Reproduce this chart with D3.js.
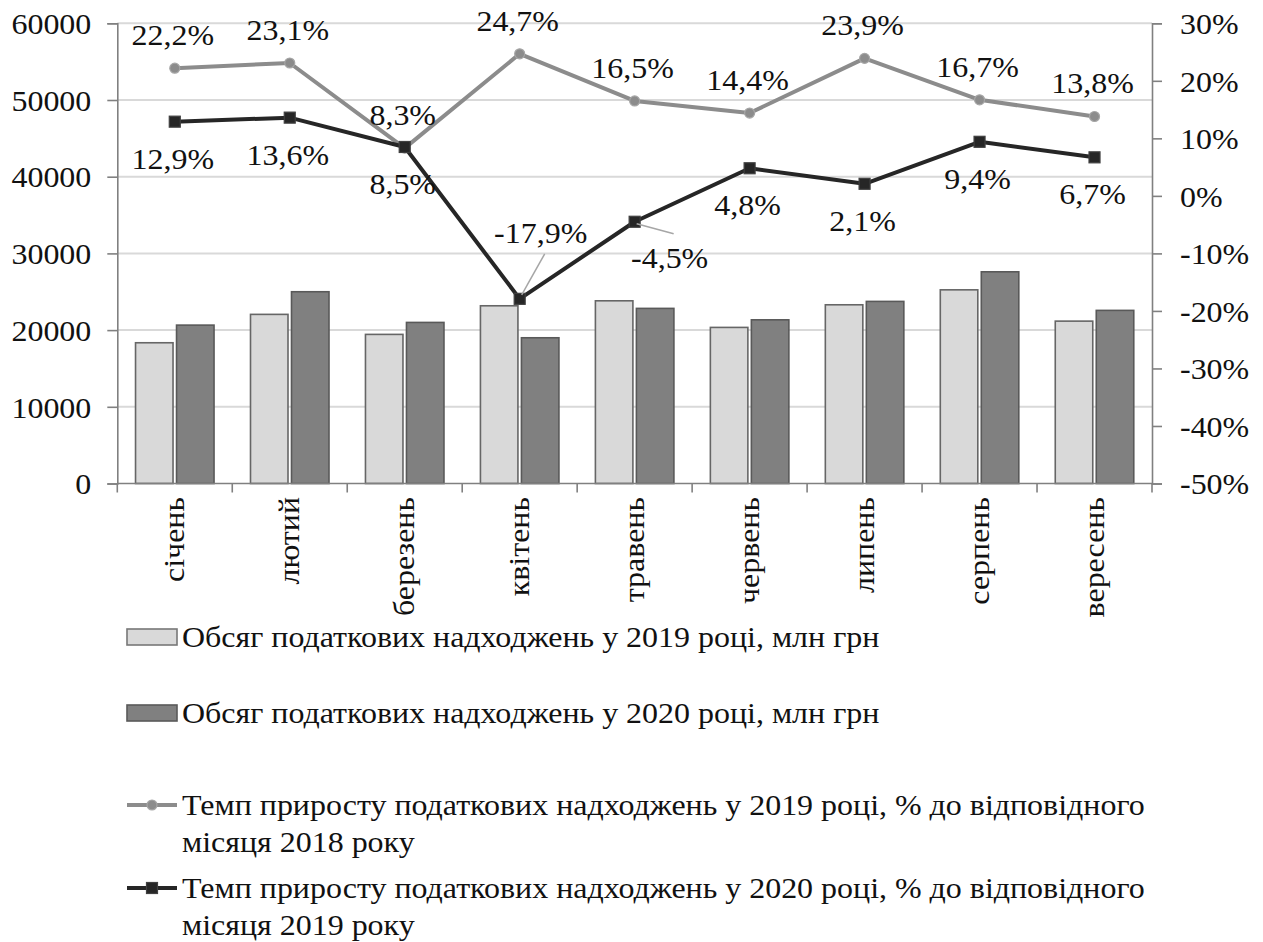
<!DOCTYPE html>
<html>
<head>
<meta charset="utf-8">
<script src="https://cdn.jsdelivr.net/npm/d3@7"></script>
<style>
  html, body { margin: 0; padding: 0; background: #fff; }
</style>
</head>
<body>
<svg id="chart" width="1263" height="942"></svg>
<script>
// Months, January–September
const months = ["січень", "лютий", "березень", "квітень", "травень", "червень", "липень", "серпень", "вересень"];

// Tax revenue volume, mln UAH
const revenue2019 = [18350, 22050, 19440, 23170, 23820, 20350, 23300, 25250, 21170];
const revenue2020 = [20650, 25000, 21000, 19000, 22830, 21340, 23740, 27600, 22570];

// Growth rate vs. the same month of the previous year, %
const growth2019 = [22.2, 23.1, 8.3, 24.7, 16.5, 14.4, 23.9, 16.7, 13.8];
const growth2020 = [12.9, 13.6, 8.5, -17.9, -4.5, 4.8, 2.1, 9.4, 6.7];

// Axis ticks
const leftTicks = [0, 10000, 20000, 30000, 40000, 50000, 60000];
const rightTicks = [-50, -40, -30, -20, -10, 0, 10, 20, 30];

const legendLabels = [
  ["Обсяг податкових надходжень у 2019 році, млн грн"],
  ["Обсяг податкових надходжень у 2020 році, млн грн"],
  ["Темп приросту податкових надходжень у 2019 році, % до відповідного", "місяця 2018 року"],
  ["Темп приросту податкових надходжень у 2020 році, % до відповідного", "місяця 2019 року"]
];

(function () {
const FONT = "'Liberation Serif', 'Times New Roman', 'DejaVu Serif', serif";
const FS = 30;
const STRETCH = 1.065;   // slightly widened lettering
const svg = d3.select("#chart");
const pl = 117.3, pr = 1152, pt = 23.3, pb = 483.5;

const x = d3.scaleBand().domain(months).range([pl, pr]).paddingInner(0).paddingOuter(0);
const yL = d3.scaleLinear().domain([0, 60000]).range([pb, pt]);
const yR = d3.scaleLinear().domain([-50, 30]).range([pb, pt]);

// Gridlines
svg.append("g").selectAll("line").data(leftTicks.filter(d => d > 0)).join("line")
  .attr("x1", pl).attr("x2", pr)
  .attr("y1", d => yL(d)).attr("y2", d => yL(d))
  .attr("stroke", "#d9d9d9").attr("stroke-width", 2);

// Bars
const bw = 37.5, off = 20.5;
const bars = svg.append("g");
bars.selectAll("rect.a").data(revenue2019).join("rect").attr("class", "a")
  .attr("x", (d, i) => x(months[i]) + x.bandwidth() / 2 - off - bw / 2)
  .attr("y", d => yL(d)).attr("width", bw).attr("height", d => yL(0) - yL(d))
  .attr("fill", "#d9d9d9").attr("stroke", "#666").attr("stroke-width", 1.6);
bars.selectAll("rect.b").data(revenue2020).join("rect").attr("class", "b")
  .attr("x", (d, i) => x(months[i]) + x.bandwidth() / 2 + off - bw / 2)
  .attr("y", d => yL(d)).attr("width", bw).attr("height", d => yL(0) - yL(d))
  .attr("fill", "#808080").attr("stroke", "#595959").attr("stroke-width", 1.6);

// Left axis
const axL = svg.append("g").attr("transform", `translate(${pl},0)`)
  .call(d3.axisLeft(yL).tickValues(leftTicks).tickSize(10).tickPadding(16).tickFormat(d3.format("d")));
axL.select(".domain").attr("stroke", "#808080").attr("stroke-width", 1.6);
axL.selectAll(".tick line").attr("stroke", "#808080").attr("stroke-width", 1.6);
axL.selectAll(".tick text").attr("dy", "0.34em");

// Right axis
const axR = svg.append("g").attr("transform", `translate(${pr},0)`)
  .call(d3.axisRight(yR).tickValues(rightTicks).tickSize(10).tickPadding(18).tickFormat(d => d + "%"));
axR.select(".domain").attr("stroke", "#808080").attr("stroke-width", 1.6);
axR.selectAll(".tick line").attr("stroke", "#808080").attr("stroke-width", 1.6);
axR.selectAll(".tick text").attr("dy", "0.34em");

// Bottom axis with ticks between categories
svg.append("line").attr("x1", pl).attr("x2", pr).attr("y1", pb).attr("y2", pb)
  .attr("stroke", "#808080").attr("stroke-width", 1.6);
svg.append("g").selectAll("line").data(d3.range(months.length + 1)).join("line")
  .attr("x1", i => pl + i * x.bandwidth()).attr("x2", i => pl + i * x.bandwidth())
  .attr("y1", pb).attr("y2", pb + 9)
  .attr("stroke", "#808080").attr("stroke-width", 1.6);
svg.append("g").selectAll("text").data(months).join("text")
  .attr("transform", d => `translate(${x(d) + x.bandwidth() / 2},497) rotate(-90)`)
  .attr("text-anchor", "end").attr("dy", "0.3em")
  .text(d => d);

// Lines
const cx = i => x(months[i]) + x.bandwidth() / 2;
const lineGen = d3.line().x((d, i) => cx(i)).y(d => yR(d));
svg.append("path").datum(growth2019).attr("d", lineGen)
  .attr("fill", "none").attr("stroke", "#8c8c8c").attr("stroke-width", 4).attr("stroke-linejoin", "round");
svg.append("g").selectAll("circle").data(growth2019).join("circle")
  .attr("cx", (d, i) => cx(i)).attr("cy", d => yR(d)).attr("r", 5)
  .attr("fill", "#8c8c8c").attr("stroke", "#a6a6a6").attr("stroke-width", 1.2);

svg.append("path").datum(growth2020).attr("d", lineGen)
  .attr("fill", "none").attr("stroke", "#262626").attr("stroke-width", 4).attr("stroke-linejoin", "round");
svg.append("g").selectAll("rect").data(growth2020).join("rect")
  .attr("x", (d, i) => cx(i) - 5.5).attr("y", d => yR(d) - 5.5).attr("width", 11).attr("height", 11)
  .attr("fill", "#262626").attr("stroke", "#404040").attr("stroke-width", 1.2);

const fmt = v => String(v.toFixed(1)).replace(".", ",") + "%";

// Labels for 2019 growth: above points
svg.append("g").selectAll("text").data(growth2019).join("text")
  .attr("x", (d, i) => cx(i) - 2).attr("y", d => yR(d) - 23)
  .attr("text-anchor", "middle").text(fmt);

// Labels for 2020 growth: below points, two moved aside with leader lines
const moved = { 3: [23, -56], 4: [37, 46] };
svg.append("g").selectAll("text").data(growth2020).join("text")
  .attr("x", (d, i) => cx(i) - 2 + (moved[i] ? moved[i][0] : 0))
  .attr("y", (d, i) => yR(d) + (moved[i] ? moved[i][1] : 47))
  .attr("text-anchor", "middle").text(fmt);
const leaders = [
  { i: 3, dx: 25, dy: -45 },
  { i: 4, dx: 39, dy: 12 }
];
svg.append("g").selectAll("line").data(leaders).join("line")
  .attr("x1", d => cx(d.i) + 2).attr("y1", d => yR(growth2020[d.i]) + (d.dy < 0 ? -4 : 2))
  .attr("x2", d => cx(d.i) + d.dx).attr("y2", d => yR(growth2020[d.i]) + d.dy)
  .attr("stroke", "#a6a6a6").attr("stroke-width", 1.5);

// Legend
const legend = svg.append("g");
const rows = [637, 713, 805, 888];
const lx0 = 127, lx1 = 177, tx = 182;
legend.append("rect").attr("x", lx0).attr("y", rows[0] - 8).attr("width", 50).attr("height", 16)
  .attr("fill", "#d9d9d9").attr("stroke", "#777").attr("stroke-width", 1.6);
legend.append("rect").attr("x", lx0).attr("y", rows[1] - 8).attr("width", 50).attr("height", 16)
  .attr("fill", "#808080").attr("stroke", "#595959").attr("stroke-width", 1.6);
legend.append("line").attr("x1", lx0).attr("x2", lx1).attr("y1", rows[2]).attr("y2", rows[2])
  .attr("stroke", "#8c8c8c").attr("stroke-width", 4);
legend.append("circle").attr("cx", (lx0 + lx1) / 2).attr("cy", rows[2]).attr("r", 5)
  .attr("fill", "#8c8c8c").attr("stroke", "#a6a6a6").attr("stroke-width", 1.2);
legend.append("line").attr("x1", lx0).attr("x2", lx1).attr("y1", rows[3]).attr("y2", rows[3])
  .attr("stroke", "#262626").attr("stroke-width", 4);
legend.append("rect").attr("x", (lx0 + lx1) / 2 - 5.5).attr("y", rows[3] - 5.5).attr("width", 11).attr("height", 11)
  .attr("fill", "#262626").attr("stroke", "#404040").attr("stroke-width", 1.2);

legendLabels.forEach((lines, k) => {
  lines.forEach((s, j) => {
    legend.append("text").attr("x", tx).attr("y", rows[k] + j * 37).attr("dy", "0.34em").text(s);
  });
});

// One typeface for every text on the chart, widened a little
svg.selectAll("text")
  .style("font-family", FONT)
  .style("font-size", FS + "px")
  .style("fill", "#111")
  .each(function () {
    const w = this.getComputedTextLength();
    d3.select(this).attr("textLength", w * STRETCH).attr("lengthAdjust", "spacingAndGlyphs");
  });
})();
</script>
</body>
</html>
